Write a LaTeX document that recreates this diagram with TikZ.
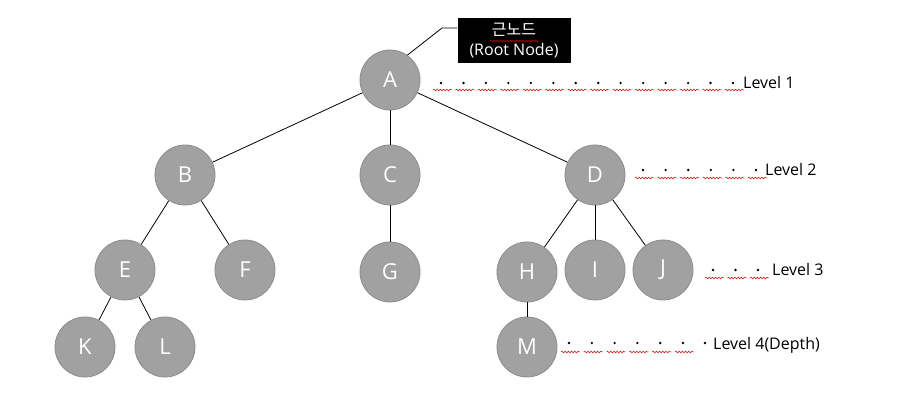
\documentclass[tikz,border=0pt]{standalone}
\usepackage{fontspec}
\setmainfont{Open Sans}
\newfontfamily\krfont{Noto Sans CJK KR}
\usetikzlibrary{decorations.pathmorphing}
\begin{document}
\begin{tikzpicture}
[lineDecorate/.style={-,line width=0.8pt},%
  nodeDecorate/.style={shape=circle,minimum size=60pt,inner sep=0pt,draw=black!45,
    line width=0.8pt,fill=black!37,text=white,font=\fontsize{22}{26}\selectfont},%
  levelLabel/.style={anchor=west,inner sep=0pt,font=\fontsize{16}{19}\selectfont},%
  spellMark/.style={draw=red!85!black,line width=0.5pt,decorate,
    decoration={snake,amplitude=0.9pt,segment length=3.2pt}},%
  x=1pt,y=-1pt]
\useasboundingbox (0,0) rectangle (905,419);
%% nodes or vertices
\node (A) at (390,80) [nodeDecorate] {A};
\node (B) at (185,175) [nodeDecorate] {B};
\node (C) at (390,175) [nodeDecorate] {C};
\node (D) at (595,175) [nodeDecorate] {D};
\node (E) at (125,270) [nodeDecorate] {E};
\node (F) at (245,270) [nodeDecorate] {F};
\node (G) at (390,272) [nodeDecorate] {G};
\node (H) at (527,272) [nodeDecorate] {H};
\node (I) at (595,270) [nodeDecorate] {I};
\node (J) at (663,270) [nodeDecorate] {J};
\node (K) at (85,347) [nodeDecorate] {K};
\node (L) at (165,347) [nodeDecorate] {L};
\node (M) at (527,347) [nodeDecorate] {M};
%% edges
\foreach \from/\to in {A/B,A/C,A/D,B/E,B/F,C/G,D/H,D/I,D/J,E/K,E/L,H/M}
  \draw [lineDecorate] (\from) -- (\to);
%% root callout
\node (rootBox) at (514,40.5) [fill=black,text=white,minimum width=113pt,minimum height=45pt,
  inner sep=0pt,align=center,font=\fontsize{16}{20}\selectfont]
  {{\krfont 근노드}\\(Root Node)};
\draw [spellMark] (490,41) -- (539,41);
\coordinate (bend) at (442,28);
\draw [line width=0.8pt] (A.55) -- (bend) -- (rootBox.west |- bend);
%% level marks
\node (lv1) at (743,83) [levelLabel] {Level 1};
\node (lv2) at (765,170) [levelLabel] {Level 2};
\node (lv3) at (772,270) [levelLabel] {Level 3};
\node (lv4) at (713,345) [levelLabel] {Level 4(Depth)};
\foreach \i in {0,...,13}{
  \fill (441+22.46*\i,83) circle (1.3pt);
  \draw [spellMark] (433+22.46*\i,90) -- (452+22.46*\i,90);}
\foreach \i in {0,...,5}{
  \fill (643+22.6*\i,170) circle (1.3pt);
  \draw [spellMark] (635+22.6*\i,178) -- (654+22.6*\i,178);}
\foreach \i in {0,...,2}{
  \fill (713+22.5*\i,270) circle (1.3pt);
  \draw [spellMark] (705+22.5*\i,278) -- (724+22.5*\i,278);}
\foreach \i in {0,...,5}{
  \fill (569+22.8*\i,343) circle (1.3pt);
  \draw [spellMark] (561+22.8*\i,352) -- (580+22.8*\i,352);}
\fill (705,343) circle (1.3pt);
\end{tikzpicture}
\end{document}
